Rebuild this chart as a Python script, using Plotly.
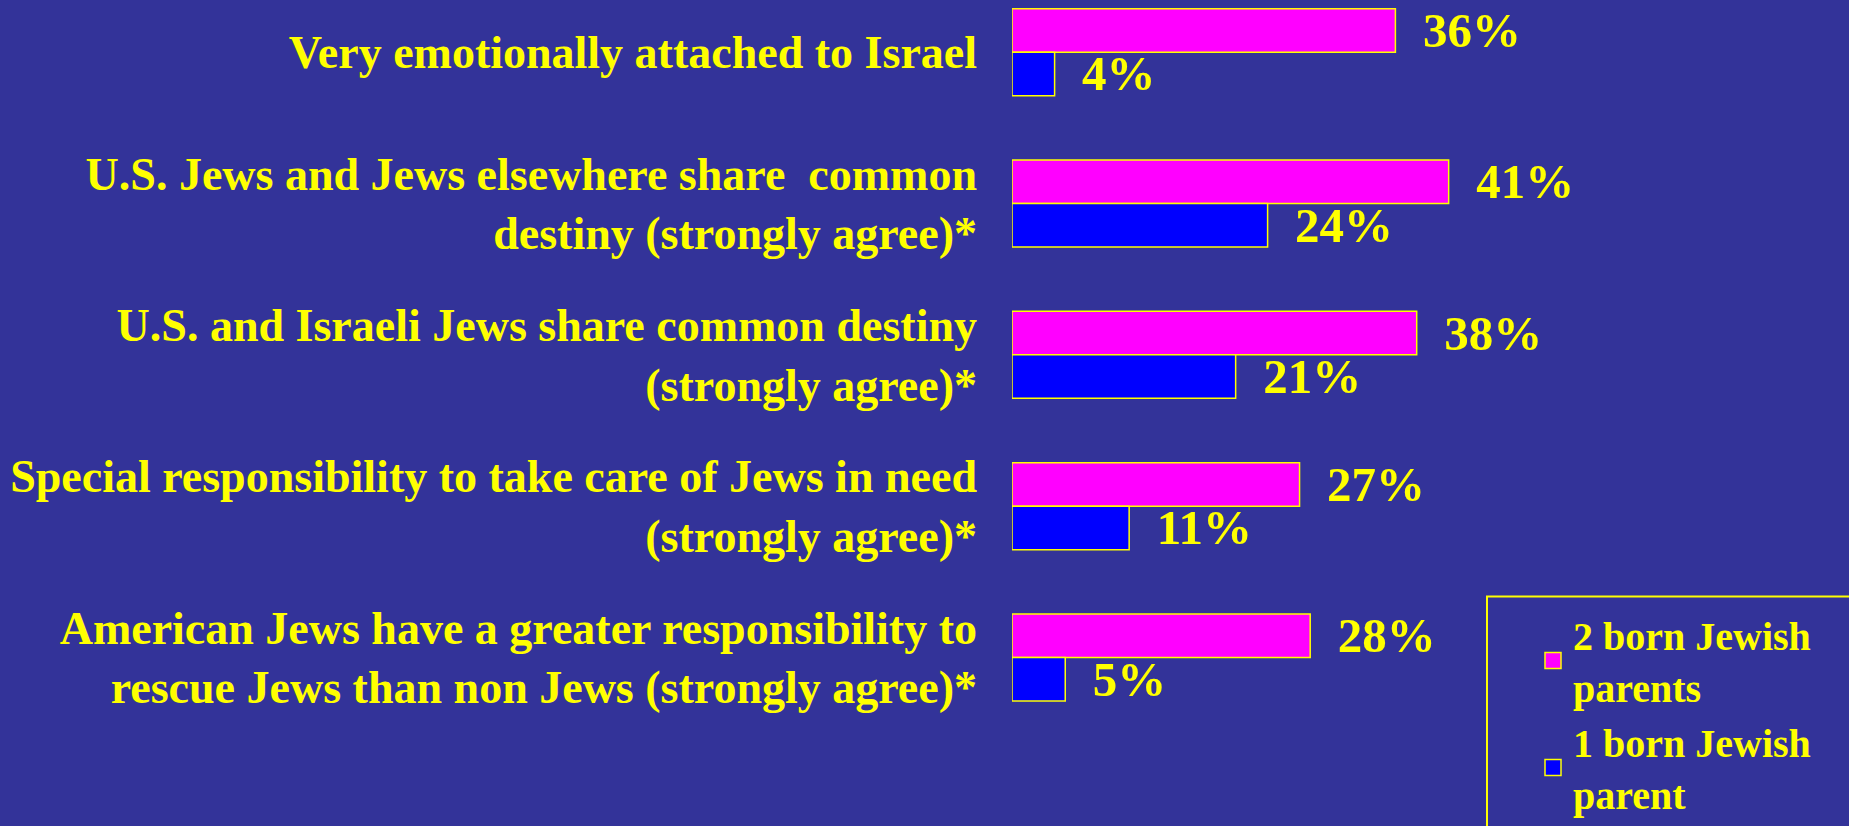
import plotly.graph_objects as go

# ── data ─────────────────────────────────────────────────────────────
categories = [
    "Very emotionally attached to Israel",
    "U.S. Jews and Jews elsewhere share  common<br>destiny (strongly agree)*",
    "U.S. and Israeli Jews share common destiny<br>(strongly agree)*",
    "Special responsibility to take care of Jews in need<br>(strongly agree)*",
    "American Jews have a greater responsibility to<br>rescue Jews than non Jews (strongly agree)*",
]
two_parents = [36, 41, 38, 27, 28]
one_parent = [4, 24, 21, 11, 5]
series_names = ["2 born Jewish<br>parents", "1 born Jewish<br>parent"]

# ── palette ──────────────────────────────────────────────────────────
BG = "#333399"
YELLOW = "#FFFF00"
PINK = "#FF00FF"
BLUE = "#0000FF"
FONT = "Liberation Serif, Times New Roman, serif"

W, H = 1849, 826
LEFT = 1012

fig = go.Figure()

for vals, color, name in [(two_parents, PINK, series_names[0]),
                          (one_parent, BLUE, series_names[1])]:
    fig.add_trace(go.Bar(
        x=vals, y=categories, orientation="h",
        marker=dict(color=color, line=dict(color=YELLOW, width=1.5)),
        text=[f"\u2002{v}%" for v in vals],
        textposition="outside",
        constraintext="none",
        cliponaxis=False,
        textfont=dict(family=FONT, size=49, color=YELLOW, weight="bold"),
        showlegend=False,
        hoverinfo="skip",
        name=name,
    ))
    # legend proxy with a larger square swatch
    fig.add_trace(go.Scatter(
        x=[None], y=[None], mode="markers", name=name,
        marker=dict(symbol="square", size=20, color=color,
                    line=dict(color=YELLOW, width=1.5)),
    ))

n = len(categories)
fig.update_layout(
    width=W, height=H,
    paper_bgcolor=BG, plot_bgcolor=BG,
    margin=dict(l=LEFT, r=0, t=0, b=0),
    barmode="group", bargap=0.425, bargroupgap=0,
    font=dict(family=FONT, color=YELLOW, weight="bold"),
    legend=dict(
        x=(1533 - LEFT) / (W - LEFT), y=1 - 612 / H,
        xanchor="left", yanchor="top",
        bgcolor="rgba(0,0,0,0)", borderwidth=0,
        font=dict(family=FONT, size=40, color=YELLOW, weight="bold"),
        itemsizing="trace",
    ),
    shapes=[dict(
        type="rect", xref="paper", yref="paper",
        x0=(1487 - LEFT) / (W - LEFT), x1=1.1,
        y0=-0.1, y1=1 - 606 / H,
        line=dict(color=YELLOW, width=2), fillcolor="rgba(0,0,0,0)",
    )],
)

fig.update_xaxes(range=[0, (W - LEFT) / 10.65], visible=False, fixedrange=True)
fig.update_yaxes(
    type="category",
    categoryorder="array", categoryarray=categories,
    range=[(n - 1) + (H - 668) / 153.75, -53 / 153.75],
    showgrid=False, zeroline=False, showline=False, ticks="",
    ticklabelstandoff=34,
    automargin=False, fixedrange=True,
    tickfont=dict(family=FONT, size=46, color=YELLOW, weight="bold"),
)

fig.write_html("out.html", config={"displayModeBar": False},
               post_script="document.body.style.margin='0';")
